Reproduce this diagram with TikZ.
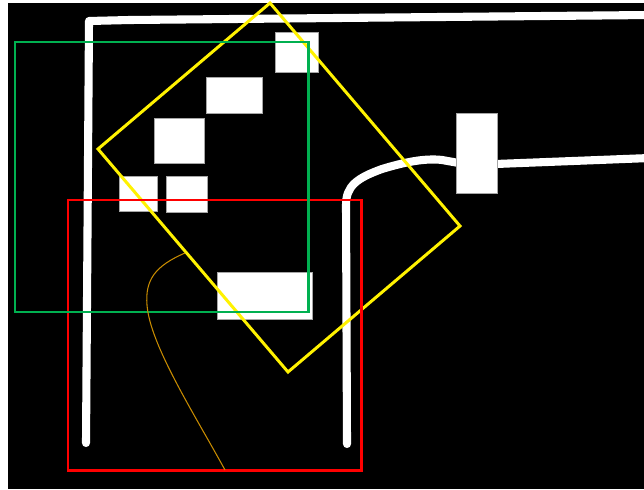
\documentclass[tikz,border=0pt]{standalone}
\usepackage{tikz}

\definecolor{framegreen}{RGB}{0,176,80}
\definecolor{pathorange}{RGB}{200,140,0}

\begin{document}
\begin{tikzpicture}[x=0.02cm,y=-0.02cm,
    track/.style={white,line width=4.6pt,line cap=round,line join=round},
    block/.style={fill=white,draw=gray!70,line width=0.4pt},
    frame/.style={line width=1.7pt}]

                % Canvas with the white margin on the left
                \useasboundingbox (0,0) rectangle (644,489);
                \clip (0,0) rectangle (644,489);
                \fill[white] (0,0) rectangle (644,489);
                \fill[black] (8,3) rectangle (644,489);

                % Corridor walls
                \draw[track] (86,443) -- (89,21) -- (130,20) -- (650,15);
                \draw[track] (347,444) -- (346,205)
                    .. controls (346,186) and (357,178) .. (382,169)
                    .. controls (405,162) and (425,158) .. (442,160)
                    -- (470,165) -- (650,158);

                % Obstacles
                \foreach \xa/\ya/\xb/\yb in {
                275/32/318/72,
                206/77/262/113,
                154/118/204/163,
                119/176/157/211,
                166/176/207/212,
                217/272/312/319,
                456/113/497/193} {
                \draw[block] (\xa,\ya) rectangle (\xb,\yb);
                }

                % Rotated search window
                \coordinate (top) at (270,3);
                \coordinate (left) at (98,149);
                \coordinate (bottom) at (288,372);
                \coordinate (right) at (460,226);
                \draw[frame,yellow,line join=miter] (top) -- (left) -- (bottom) -- (right) -- cycle;

                % Axis aligned windows
                \draw[frame,red] (68,200) rectangle (361,470);
                \draw[frame,framegreen] (15,42) rectangle (308,312);

                % Planned trajectory
                \draw[pathorange,line width=0.6pt] (185,253)
                    .. controls (155,266) and (145,280) .. (147,305)
                    .. controls (150,345) and (195,415) .. (225,470);

\end{tikzpicture}
\end{document}
